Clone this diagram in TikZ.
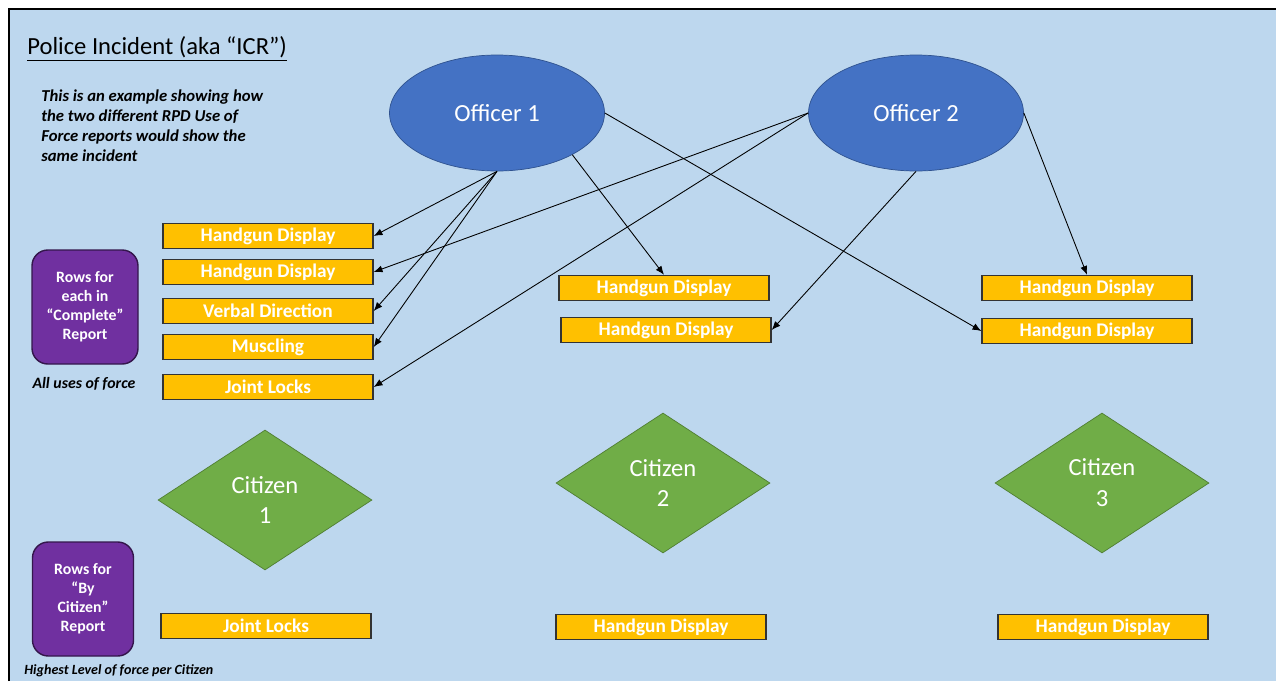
\documentclass[tikz,border=0pt]{standalone}
\usepackage{fontspec}
\setmainfont{Carlito}
\usetikzlibrary{shapes,arrows,arrows.meta,positioning,shapes.geometric}
\definecolor{panelblue}{RGB}{189,215,238}
\definecolor{officerblue}{RGB}{68,114,196}
\definecolor{officerline}{RGB}{47,82,143}
\definecolor{forceorange}{RGB}{255,192,0}
\definecolor{reportpurple}{RGB}{112,48,160}
\definecolor{reportline}{RGB}{52,22,76}
\definecolor{citizengreen}{RGB}{112,173,71}
\definecolor{citizenline}{RGB}{80,126,50}

\begin{document}
\begin{tikzpicture}[>={Latex[length=5pt,width=4pt]},
   officer/.style={ellipse, draw=officerline, fill=officerblue, text=white, minimum width=4.3cm, minimum height=2.32cm, font=\fontsize{14}{17}\selectfont},
   force/.style={draw=black!80, line width=0.8pt, fill=forceorange, text=white, minimum width=4.2cm, minimum height=0.5cm, inner sep=0pt, font=\bfseries\fontsize{11}{13}\selectfont},
   report/.style={draw=reportline, line width=0.8pt, fill=reportpurple, text=white, rounded corners=9pt, minimum height=2.28cm, inner sep=0pt, align=center, font=\bfseries\fontsize{9}{10.8}\selectfont},
   citizen/.style={diamond, draw=citizenline, fill=citizengreen, text=white, minimum width=4.28cm, minimum height=2.8cm, inner sep=0pt, align=center, font=\fontsize{14}{17.6}\selectfont},
   note/.style={font=\bfseries\itshape\fontsize{8}{10}\selectfont},
   link/.style={->, line width=0.5pt}]

    % background panel
    \useasboundingbox (0,0) rectangle (25.52,-13.62);
    \fill[panelblue] (0.18,-0.18) rectangle (25.52,-13.62);
    \draw[line width=1.2pt] (0.18,-13.62) -- (0.18,-0.18) -- (25.52,-0.18);

    % Titles
    \node[anchor=west, inner sep=0pt, font=\fontsize{14}{17}\selectfont] (title) at (0.54,-0.98) {\underline{Police Incident (aka “ICR”)}};
    \node[anchor=north west, inner sep=0pt, align=left, font=\bfseries\itshape\fontsize{9.5}{11.4}\selectfont] (intro) at (0.82,-1.78)
        {This is an example showing how\\the two different RPD Use of\\Force reports would show the\\same incident};

    % Officers
    \node[officer] (o1) at (9.94,-2.26) {Officer 1};
    \node[officer] (o2) at (18.32,-2.26) {Officer 2};

    % Complete report rows
    \node[force] (l1) at (5.36,-4.72) {Handgun Display};
    \node[force] (l2) at (5.36,-5.44) {Handgun Display};
    \node[force] (l3) at (5.36,-6.22) {Verbal Direction};
    \node[force] (l4) at (5.36,-6.94) {Muscling};
    \node[force] (l5) at (5.36,-7.74) {Joint Locks};

    \node[force] (m1) at (13.28,-5.76) {Handgun Display};
    \node[force] (m2) at (13.32,-6.60) {Handgun Display};
    \node[force] (r1) at (21.74,-5.76) {Handgun Display};
    \node[force] (r2) at (21.74,-6.62) {Handgun Display};

    \node[report, minimum width=2.12cm] (rc) at (1.70,-6.14) {Rows for\\each in\\“Complete”\\Report};
    \node[note, font=\bfseries\itshape\fontsize{9}{11}\selectfont] (allnote) at (1.68,-7.68) {All uses of force};

    % Citizens
    \node[citizen] (c1) at (5.30,-10.00) {Citizen\\1};
    \node[citizen] (c2) at (13.26,-9.66) {Citizen\\2};
    \node[citizen] (c3) at (22.04,-9.66) {Citizen\\3};

    % By citizen report rows
    \node[report, minimum width=2.02cm] (rb) at (1.66,-11.98) {Rows for\\“By\\Citizen”\\Report};
    \node[force] (b1) at (5.32,-12.52) {Joint Locks};
    \node[force] (b2) at (13.22,-12.54) {Handgun Display};
    \node[force] (b3) at (22.06,-12.54) {Handgun Display};
    \node[note, anchor=west, inner sep=0pt] (highnote) at (0.48,-13.42) {Highest Level of force per Citizen};

    % Draw edges
    \draw[link] (o1.south) -- (l1.east);
    \draw[link] (o1.south) -- (l3.east);
    \draw[link] (o1.south) -- (l4.east);
    \draw[link] (o1.-29) -- (m1.north);
    \draw[link] (o1.east) -- (r2.west);
    \draw[link] (o2.west) -- (l2.east);
    \draw[link] (o2.west) -- (l5.east);
    \draw[link] (o2.south) -- (m2.east);
    \draw[link] (o2.east) -- (r1.north);
\end{tikzpicture}
\end{document}
